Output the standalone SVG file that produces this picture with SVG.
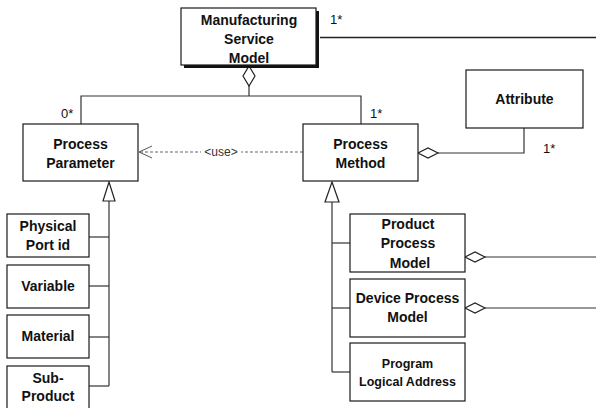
<svg xmlns="http://www.w3.org/2000/svg" width="596" height="408" viewBox="0 0 596 408">
  <style>
    .box { fill: #ffffff; stroke: #1a1a1a; stroke-width: 1.2; }
    .t { font-family: "Liberation Sans", Arial, sans-serif; font-weight: bold; font-size: 14px; fill: #111; text-anchor: middle; }
    .ts { font-family: "Liberation Sans", Arial, sans-serif; font-weight: bold; font-size: 12.5px; fill: #111; text-anchor: middle; }
    .m { font-family: "Liberation Sans", Arial, sans-serif; font-size: 13px; fill: #111; }
    .ln { fill: none; stroke: #333; stroke-width: 1.2; }
    .dash { fill: none; stroke: #666; stroke-width: 1.2; stroke-dasharray: 3 2; }
    .dia { fill: #ffffff; stroke: #222; stroke-width: 1.2; }
    .tri { fill: #ffffff; stroke: #222; stroke-width: 1.2; }
  </style>

  <!-- connectors -->
  <g id="connectors">
    <!-- composition from Manufacturing Service Model down to parameter / method -->
    <polyline class="ln" points="81,124 81,96 361,96 361,124"/>
    <line class="ln" x1="249" y1="86" x2="249" y2="96"/>
    <polygon class="dia" points="249,66 255,76 249,86 243,76"/>
    <!-- outgoing association to the right -->
    <line x1="320" y1="37.5" x2="596" y2="37.5" stroke="#222" stroke-width="1.6"/>

    <!-- <use> dependency -->
    <line class="dash" x1="140" y1="152" x2="303" y2="152"/>
    <polyline fill="none" stroke="#555" stroke-width="1" points="152,146 139,152 152,158"/>
    <rect x="201" y="145" width="40" height="13" fill="#ffffff"/>
    <text x="221" y="156" font-family="Liberation Sans, Arial, sans-serif" font-size="12" fill="#333" text-anchor="middle">&lt;use&gt;</text>

    <!-- Attribute aggregation -->
    <polyline class="ln" points="524,128 524,153 438,153"/>
    <polygon class="dia" points="418,153 428,148 438,153 428,158"/>

    <!-- generalization: parameter subtypes -->
    <polygon class="tri" points="109,182 115,201 103,201"/>
    <polyline class="ln" points="109,201 109,386"/>
    <line class="ln" x1="89" y1="237" x2="109" y2="237"/>
    <line class="ln" x1="89" y1="286" x2="109" y2="286"/>
    <line class="ln" x1="89" y1="337" x2="109" y2="337"/>
    <line class="ln" x1="89" y1="386" x2="109" y2="386"/>

    <!-- generalization: method subtypes -->
    <polygon class="tri" points="332,182 339,202 325,202"/>
    <polyline class="ln" points="332,202 332,372"/>
    <line class="ln" x1="332" y1="243" x2="350" y2="243"/>
    <line class="ln" x1="332" y1="308" x2="350" y2="308"/>
    <line class="ln" x1="332" y1="372" x2="350" y2="372"/>

    <!-- outgoing aggregations to the right -->
    <line class="ln" x1="485" y1="257" x2="596" y2="257"/>
    <polygon class="dia" points="465,257 475,252 485,257 475,262"/>
    <line class="ln" x1="485" y1="308" x2="596" y2="308"/>
    <polygon class="dia" points="465,308 475,303 485,308 475,313"/>

    <!-- multiplicities -->
    <text class="m" x="330" y="24">1*</text>
    <text class="m" x="61" y="118">0*</text>
    <text class="m" x="370" y="118">1*</text>
    <text class="m" x="543" y="153">1*</text>
  </g>

  <g id="manufacturing-service-model">
    <rect x="184" y="11" width="135" height="57" fill="#111"/>
    <rect class="box" x="181" y="8" width="135" height="57"/>
    <text class="t" x="249" y="25">Manufacturing</text>
    <text class="t" x="249" y="44">Service</text>
    <text class="t" x="249" y="63">Model</text>
  </g>

  <g id="process-parameter">
    <rect class="box" x="23" y="124" width="115" height="57"/>
    <text class="t" x="80.5" y="149">Process</text>
    <text class="t" x="80.5" y="168">Parameter</text>
  </g>

  <g id="process-method">
    <rect class="box" x="303" y="124" width="115" height="57"/>
    <text class="t" x="360.5" y="149">Process</text>
    <text class="t" x="360.5" y="168">Method</text>
  </g>

  <g id="attribute">
    <rect class="box" x="466" y="70" width="117" height="58"/>
    <text class="t" x="524.5" y="104">Attribute</text>
  </g>

  <g id="physical-port-id">
    <rect class="box" x="7" y="214" width="82" height="43"/>
    <text class="t" x="48" y="231">Physical</text>
    <text class="t" x="48" y="250">Port id</text>
  </g>

  <g id="variable">
    <rect class="box" x="7" y="265" width="82" height="43"/>
    <text class="t" x="48" y="291">Variable</text>
  </g>

  <g id="material">
    <rect class="box" x="7" y="315" width="82" height="43"/>
    <text class="t" x="48" y="341">Material</text>
  </g>

  <g id="sub-product">
    <rect class="box" x="7" y="366" width="82" height="50"/>
    <text class="t" x="48" y="383">Sub-</text>
    <text class="t" x="48" y="401">Product</text>
  </g>

  <g id="product-process-model">
    <rect class="box" x="350" y="214" width="115" height="58"/>
    <text class="t" x="408" y="229">Product</text>
    <text class="t" x="408" y="248">Process</text>
    <text class="t" x="410" y="268">Model</text>
  </g>

  <g id="device-process-model">
    <rect class="box" x="350" y="279" width="115" height="58"/>
    <text class="t" x="407.5" y="303">Device Process</text>
    <text class="t" x="407.5" y="322">Model</text>
  </g>

  <g id="program-logical-address">
    <rect class="box" x="350" y="343" width="115" height="58"/>
    <text class="ts" x="407.5" y="368">Program</text>
    <text class="ts" x="407.5" y="386">Logical Address</text>
  </g>
</svg>
